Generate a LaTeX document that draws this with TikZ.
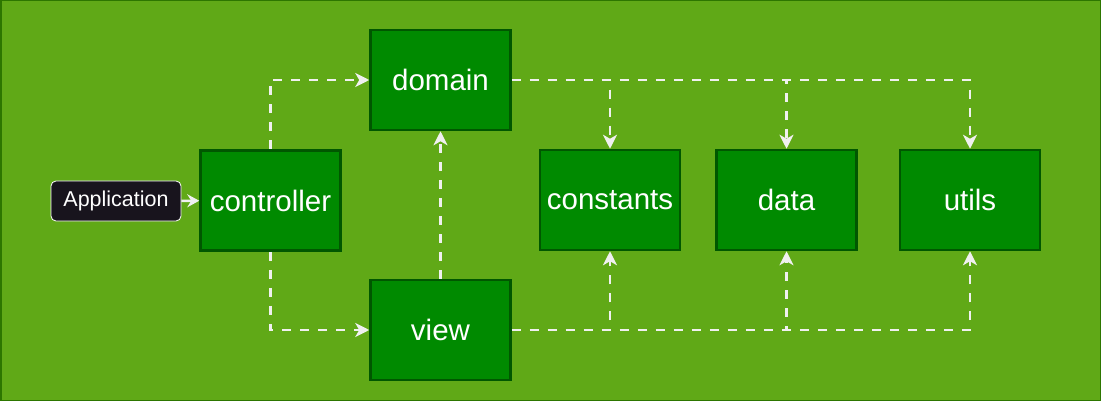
\documentclass[tikz,border=0pt]{standalone}
\usepackage{fontspec}
\setmainfont{Liberation Sans}
\usetikzlibrary{arrows.meta}

\definecolor{bggreen}{HTML}{60A917}
\definecolor{bgedge}{HTML}{2D7600}
\definecolor{boxgreen}{HTML}{008A00}
\definecolor{boxedge}{HTML}{005700}
\definecolor{appfill}{HTML}{18141D}
\definecolor{wire}{HTML}{F0F0F0}

\tikzset{
    pkg/.style={draw=boxedge, fill=boxgreen, line width=2.5pt,
        minimum width=140pt, minimum height=100pt, inner sep=0pt,
        text=white, font=\fontsize{29.5}{32}\selectfont},
    app/.style={draw=white, fill=appfill, rounded corners=5pt, line width=0.8pt,
        minimum width=130pt, minimum height=40pt, inner sep=0pt,
        text=white, font=\fontsize{21.5}{24}\selectfont},
    dep/.style={draw=wire, line width=2.5pt, dash pattern=on 9pt off 9pt,
        -{Stealth[length=14pt,width=14pt,inset=4pt]}},
    call/.style={draw=wire, line width=2.5pt,
        -{Stealth[length=12pt,width=13pt,inset=4pt]}}
}

\begin{document}
\begin{tikzpicture}[x=1pt,y=-1pt]
    \useasboundingbox (0,0) rectangle (1101,401);
    \draw[fill=bggreen, draw=bgedge, line width=1.5pt] (0.75,0.75) rectangle (1100.25,400.25);

    % packages
    \node[pkg] (controller) at (270.5,200.5) {\raisebox{-1.5pt}{controller}};
    \node[pkg] (domain) at (440.5,80) {\raisebox{-1.5pt}{domain}};
    \node[pkg] (view) at (440.5,330) {\raisebox{-1.5pt}{view}};
    \node[pkg] (constants) at (610,200) {\raisebox{-1.5pt}{constants}};
    \node[pkg] (data) at (786.5,200) {\raisebox{-1.5pt}{data}};
    \node[pkg] (utils) at (970,200) {\raisebox{-1.5pt}{utils}};

    \node[app] (application) at (116,201) {Application};

    % dependencies
    \draw[call] (application) -- (controller);
    \draw[dep] (controller.north) |- (domain.west);
    \draw[dep] (controller.south) |- (view.west);
    \draw[dep] (view.north) -- (domain.south);
    \foreach \target in {constants,data,utils}{
        \draw[dep] (domain.east) -| (\target.north);
        \draw[dep] (view.east) -| (\target.south);
    }
\end{tikzpicture}
\end{document}
